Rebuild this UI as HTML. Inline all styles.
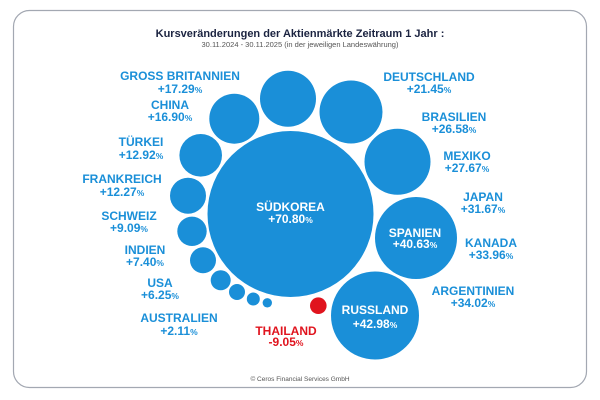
<!DOCTYPE html>
<html><head><meta charset="utf-8"><style>
html,body{margin:0;padding:0;background:#fff;}
svg{display:block;font-family:"Liberation Sans",sans-serif;}
.l{fill:#1a8fd8;font-weight:bold;font-size:12px;text-anchor:middle;}
.w{fill:#fff;font-weight:bold;font-size:12px;text-anchor:middle;}
.r{fill:#e0141e;font-weight:bold;font-size:12px;text-anchor:middle;}
.p{font-size:8.5px;}
</style></head><body>
<svg width="600" height="400" viewBox="0 0 600 400">
<rect x="13.5" y="10.5" width="573" height="377" rx="16" fill="#fff" stroke="#a3a8b2" stroke-width="1.2"/>
<text x="300" y="37" text-anchor="middle" font-size="11px" font-weight="bold" fill="#1b2340">Kursveränderungen der Aktienmärkte Zeitraum 1 Jahr :</text>
<text x="300" y="47" text-anchor="middle" font-size="7.5px" fill="#555">30.11.2024 - 30.11.2025 (in der jeweiligen Landeswährung)</text>
<g fill="#1a8fd8">
<circle cx="290.5" cy="214" r="83"/>
<circle cx="288" cy="98.7" r="28"/>
<circle cx="234.3" cy="118.7" r="25"/>
<circle cx="351" cy="112" r="31.5"/>
<circle cx="397.5" cy="161.7" r="33"/>
<circle cx="416" cy="238" r="41"/>
<circle cx="375" cy="315.5" r="44"/>
<circle cx="200.7" cy="155.3" r="21.3"/>
<circle cx="188" cy="195.7" r="18"/>
<circle cx="192" cy="231.3" r="14.7"/>
<circle cx="203" cy="260.3" r="13"/>
<circle cx="220.7" cy="280.3" r="10"/>
<circle cx="237" cy="292" r="8"/>
<circle cx="253.3" cy="299" r="6.5"/>
<circle cx="267.3" cy="302.8" r="4.7"/>
</g>
<circle cx="318.3" cy="305.7" r="8.3" fill="#e0141e"/>
<g class="l">
<text x="180" y="80">GROSS BRITANNIEN</text><text x="180" y="93">+17.29<tspan class="p">%</tspan></text>
<text x="170" y="109">CHINA</text><text x="170" y="121">+16.90<tspan class="p">%</tspan></text>
<text x="141" y="146">TÜRKEI</text><text x="141" y="159">+12.92<tspan class="p">%</tspan></text>
<text x="122" y="183">FRANKREICH</text><text x="122" y="196">+12.27<tspan class="p">%</tspan></text>
<text x="129" y="220">SCHWEIZ</text><text x="129" y="232">+9.09<tspan class="p">%</tspan></text>
<text x="145" y="254">INDIEN</text><text x="145" y="266">+7.40<tspan class="p">%</tspan></text>
<text x="160" y="287">USA</text><text x="160" y="299">+6.25<tspan class="p">%</tspan></text>
<text x="179" y="322">AUSTRALIEN</text><text x="179" y="335">+2.11<tspan class="p">%</tspan></text>
<text x="429" y="81">DEUTSCHLAND</text><text x="429" y="93">+21.45<tspan class="p">%</tspan></text>
<text x="454" y="121">BRASILIEN</text><text x="454" y="133">+26.58<tspan class="p">%</tspan></text>
<text x="467" y="160">MEXIKO</text><text x="467" y="172">+27.67<tspan class="p">%</tspan></text>
<text x="483" y="201">JAPAN</text><text x="483" y="213">+31.67<tspan class="p">%</tspan></text>
<text x="491" y="247">KANADA</text><text x="491" y="259">+33.96<tspan class="p">%</tspan></text>
<text x="473" y="295">ARGENTINIEN</text><text x="473" y="307">+34.02<tspan class="p">%</tspan></text>
</g>
<g class="w">
<text x="290.5" y="211">SÜDKOREA</text><text x="290.5" y="223">+70.80<tspan class="p">%</tspan></text>
<text x="415" y="237">SPANIEN</text><text x="415" y="248">+40.63<tspan class="p">%</tspan></text>
<text x="375" y="314">RUSSLAND</text><text x="375" y="328">+42.98<tspan class="p">%</tspan></text>
</g>
<g class="r">
<text x="286" y="335">THAILAND</text><text x="286" y="346">-9.05<tspan class="p">%</tspan></text>
</g>
<text x="300" y="381" text-anchor="middle" font-size="6.5px" fill="#555">© Ceros Financial Services GmbH</text>
</svg>
</body></html>
